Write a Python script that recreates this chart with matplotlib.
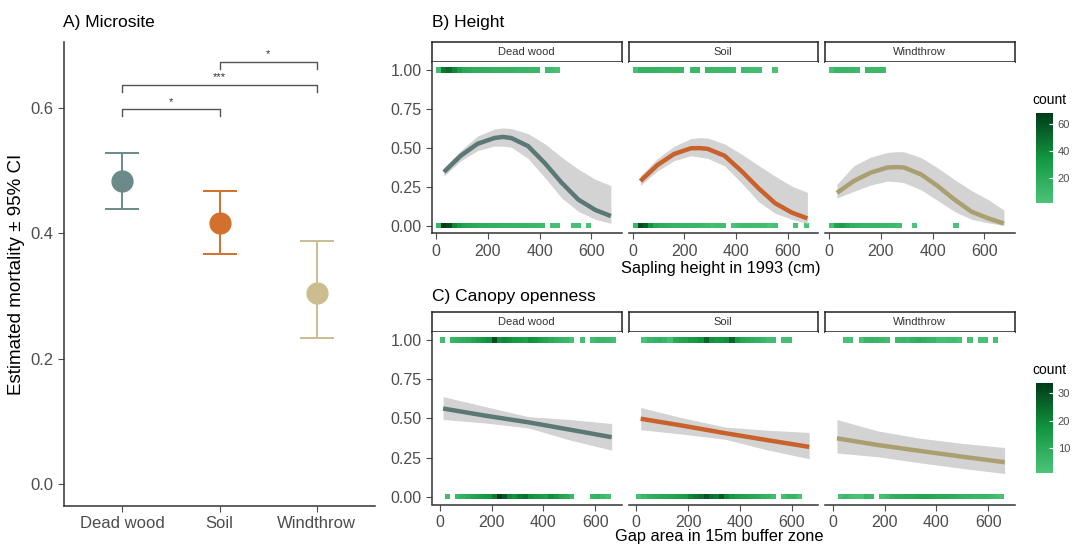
import numpy as np
import matplotlib.pyplot as plt
from matplotlib.colors import LinearSegmentedColormap, Normalize
from matplotlib.cm import ScalarMappable

plt.rcParams['font.family'] = ['Liberation Sans', 'DejaVu Sans']

# ---- A) microsite estimates
microsites = ['Dead wood', 'Soil', 'Windthrow']
mort_est = [0.483, 0.416, 0.304]
mort_lo = [0.438, 0.367, 0.233]
mort_hi = [0.528, 0.467, 0.388]
sig_pairs = [(0, 1), (0, 2), (1, 2)]
sig_labels = ['*', '***', '*']
sig_y = [0.598, 0.637, 0.673]

# ---- B) height: fitted curves
height_x = [30, 95, 160, 225, 258, 290, 355, 420, 485, 550, 615, 675]
height_fit = {
    'Dead wood': [0.344, 0.449, 0.526, 0.563, 0.570, 0.563, 0.511, 0.401, 0.275, 0.166, 0.100, 0.061],
    'Soil':      [0.286, 0.388, 0.460, 0.497, 0.498, 0.493, 0.449, 0.351, 0.242, 0.144, 0.083, 0.046],
    'Windthrow': [0.210, 0.286, 0.340, 0.373, 0.376, 0.373, 0.329, 0.253, 0.166, 0.089, 0.046, 0.013],
}
height_hi = {
    'Dead wood': [0.372, 0.482, 0.576, 0.620, 0.628, 0.624, 0.591, 0.526, 0.439, 0.362, 0.297, 0.257],
    'Soil':      [0.320, 0.430, 0.510, 0.559, 0.565, 0.563, 0.525, 0.460, 0.388, 0.318, 0.253, 0.213],
    'Windthrow': [0.265, 0.384, 0.440, 0.470, 0.475, 0.474, 0.437, 0.370, 0.295, 0.225, 0.166, 0.100],
}
height_lo = {
    'Dead wood': [0.318, 0.416, 0.482, 0.511, 0.510, 0.504, 0.432, 0.308, 0.177, 0.090, 0.040, 0.014],
    'Soil':      [0.258, 0.350, 0.417, 0.449, 0.440, 0.432, 0.384, 0.275, 0.155, 0.079, 0.040, 0.014],
    'Windthrow': [0.177, 0.220, 0.260, 0.286, 0.283, 0.275, 0.230, 0.160, 0.090, 0.040, 0.017, 0.002],
}

# ---- C) canopy openness: fitted lines
gap_x = {
    'Dead wood': [13, 174, 342, 503, 664],
    'Soil':      [17, 174, 342, 503, 668],
    'Windthrow': [16, 174, 338, 503, 664],
}
gap_fit = {
    'Dead wood': [0.563, 0.518, 0.475, 0.428, 0.380],
    'Soil':      [0.498, 0.455, 0.406, 0.362, 0.318],
    'Windthrow': [0.373, 0.330, 0.292, 0.255, 0.220],
}
gap_hi = {
    'Dead wood': [0.639, 0.576, 0.511, 0.493, 0.467],
    'Soil':      [0.570, 0.505, 0.445, 0.425, 0.410],
    'Windthrow': [0.493, 0.420, 0.373, 0.340, 0.314],
}
gap_lo = {
    'Dead wood': [0.493, 0.471, 0.439, 0.362, 0.297],
    'Soil':      [0.428, 0.400, 0.367, 0.300, 0.242],
    'Windthrow': [0.279, 0.255, 0.216, 0.180, 0.148],
}

# ---- observation counts, bins of 20 from 0 to 700 (alive = 0, dead = 1)
bin_edges = np.arange(0, 701, 20)
height_counts_dead = {
    'Dead wood': [6, 45, 50, 40, 28, 22, 20, 18, 17, 16, 16, 15, 15, 14, 14, 13, 12, 12, 11, 10, 0, 8, 7, 3, 0, 0, 0, 0, 0, 0, 0, 0, 0, 0, 0],
    'Soil':      [5, 14, 15, 14, 14, 13, 13, 12, 12, 11, 0, 10, 10, 0, 10, 10, 9, 9, 9, 8, 0, 8, 7, 7, 6, 0, 0, 3, 0, 0, 0, 0, 0, 0, 0],
    'Windthrow': [4, 12, 12, 11, 11, 9, 0, 10, 10, 10, 8, 0, 0, 0, 0, 0, 0, 0, 0, 0, 0, 0, 0, 0, 0, 0, 0, 0, 0, 0, 0, 0, 0, 0, 0],
}
height_counts_alive = {
    'Dead wood': [12, 68, 62, 40, 30, 25, 22, 20, 18, 17, 16, 16, 15, 14, 14, 13, 13, 12, 11, 10, 8, 0, 5, 5, 0, 0, 4, 5, 0, 3, 0, 0, 0, 0, 0],
    'Soil':      [10, 62, 55, 35, 22, 18, 16, 15, 14, 13, 12, 12, 11, 10, 8, 5, 8, 6, 0, 3, 7, 8, 8, 7, 7, 6, 2, 4, 0, 0, 0, 3, 0, 3, 0],
    'Windthrow': [5, 25, 28, 22, 16, 14, 13, 12, 12, 11, 10, 10, 9, 6, 0, 0, 2, 0, 0, 0, 0, 0, 0, 0, 2, 0, 0, 0, 0, 0, 0, 0, 0, 0, 0],
}
gap_counts_dead = {
    'Dead wood': [4, 0, 6, 8, 9, 10, 12, 14, 16, 18, 30, 18, 20, 18, 16, 15, 14, 18, 17, 14, 12, 10, 8, 7, 6, 3, 0, 3, 0, 4, 6, 6, 5, 3, 0],
    'Soil':      [0, 2, 6, 7, 8, 6, 3, 10, 12, 13, 15, 16, 18, 26, 18, 16, 17, 18, 26, 15, 12, 10, 9, 8, 6, 4, 4, 0, 3, 3, 0, 0, 0, 0, 0],
    'Windthrow': [0, 0, 2, 2, 0, 2, 6, 7, 6, 5, 4, 0, 5, 6, 5, 8, 9, 8, 7, 6, 3, 3, 4, 4, 2, 0, 2, 0, 2, 2, 0, 2, 0, 0, 0],
}
gap_counts_alive = {
    'Dead wood': [0, 4, 0, 6, 8, 10, 12, 14, 15, 17, 22, 33, 28, 20, 18, 22, 24, 18, 16, 15, 14, 18, 16, 12, 10, 6, 0, 0, 0, 6, 8, 5, 3, 0, 0],
    'Soil':      [3, 6, 8, 9, 10, 11, 12, 13, 14, 15, 20, 22, 24, 28, 24, 22, 28, 20, 16, 14, 13, 12, 11, 10, 8, 7, 4, 0, 3, 6, 6, 2, 0, 0, 0],
    'Windthrow': [0, 3, 5, 4, 2, 2, 6, 5, 0, 3, 5, 8, 9, 9, 10, 10, 11, 12, 12, 11, 10, 10, 9, 9, 8, 7, 7, 6, 6, 6, 5, 4, 2, 0, 0],
}

# ---- styling
W, H = 1074, 544
point_colors = ['#6b8a89', '#d2702d', '#cbbd8f']
line_colors = ['#5b7877', '#c8612a', '#aa9f70']
cmap = LinearSegmentedColormap.from_list('cnt', ['#4cc47a', '#12963f', '#003a18'])
tick_col = '#4d4d4d'


def fbox(x0, y0, x1, y1):
    # pixel box (top-left origin) -> figure fraction rect
    return [x0 / W, 1 - y1 / H, (x1 - x0) / W, (y1 - y0) / H]


fig = plt.figure(figsize=(W / 100, H / 100), dpi=100)

# ================= panel A
axA = fig.add_axes(fbox(64, 42, 375, 506))
for i, name in enumerate(microsites):
    axA.errorbar(i + 1, mort_est[i],
                 yerr=[[mort_est[i] - mort_lo[i]], [mort_hi[i] - mort_est[i]]],
                 fmt='o', color=point_colors[i], ms=15, capsize=12,
                 elinewidth=1.4, capthick=1.4, zorder=3)
for (a, b), lab, y in zip(sig_pairs, sig_labels, sig_y):
    axA.plot([a + 1, a + 1, b + 1, b + 1], [y - 0.011, y, y, y - 0.011],
             color='#555555', lw=1)
    axA.text((a + b) / 2 + 1, y + 0.004, lab, ha='center', va='bottom',
             fontsize=8, color='#333333')
axA.set_xlim(0.4, 3.6)
axA.set_ylim(-0.035, 0.705)
axA.set_xticks([1, 2, 3])
axA.set_xticklabels(microsites)
axA.set_yticks([0.0, 0.2, 0.4, 0.6])
axA.set_yticklabels(['0.0', '0.2', '0.4', '0.6'])
axA.tick_params(labelsize=12, colors=tick_col, labelcolor=tick_col, length=4)
axA.set_ylabel('Estimated mortality ± 95% CI', fontsize=13.5)
for s in ['top', 'right']:
    axA.spines[s].set_visible(False)
for s in ['left', 'bottom']:
    axA.spines[s].set_color('#333333')
    axA.spines[s].set_linewidth(1.1)
fig.text(63 / W, 1 - 22 / H, 'A) Microsite', fontsize=12.5, va='center')


def facet_row(top_strip, top, bottom, xlim, xs, fits, his, los, cnt1, cnt0, norm):
    lefts = [432, 628.5, 825]
    width = 189.5
    axes = []
    for j, name in enumerate(microsites):
        x0 = lefts[j]
        sax = fig.add_axes(fbox(x0, top_strip, x0 + width, top))
        sax.set_xticks([])
        sax.set_yticks([])
        for s in sax.spines.values():
            s.set_linewidth(1.1)
            s.set_color('#222222')
        sax.text(0.5, 0.5, name, ha='center', va='center', fontsize=8,
                 color='#333333', transform=sax.transAxes)

        ax = fig.add_axes(fbox(x0, top, x0 + width, bottom))
        xj = xs[name] if isinstance(xs, dict) else xs
        for y, cnt in [(1.0, cnt1[name]), (0.0, cnt0[name])]:
            c = np.ma.masked_equal(np.array([cnt], dtype=float), 0)
            ax.pcolormesh(bin_edges, [y - 0.017, y + 0.017], c, cmap=cmap,
                          norm=norm, shading='flat')
        ax.fill_between(xj, los[name], his[name], color='#d3d3d3', lw=0,
                        zorder=2)
        ax.plot(xj, fits[name], color=line_colors[j], lw=3.2,
                solid_capstyle='butt', solid_joinstyle='round', zorder=3)
        ax.set_xlim(*xlim)
        ax.set_ylim(-0.05, 1.05)
        ax.set_xticks([0, 200, 400, 600])
        ax.set_yticks([0, 0.25, 0.5, 0.75, 1.0])
        ax.tick_params(labelsize=11.5, colors=tick_col, labelcolor=tick_col,
                       length=4)
        for s in ['top', 'right']:
            ax.spines[s].set_visible(False)
        ax.spines['bottom'].set_color('#333333')
        ax.spines['bottom'].set_linewidth(1.1)
        if j == 0:
            ax.set_yticklabels(['0.00', '0.25', '0.50', '0.75', '1.00'])
            ax.spines['left'].set_color('#333333')
            ax.spines['left'].set_linewidth(1.1)
        else:
            ax.set_yticklabels([])
            ax.tick_params(axis='y', length=0)
            ax.spines['left'].set_visible(False)
        axes.append(ax)
    return axes


norm_h = Normalize(vmin=1, vmax=68)
norm_g = Normalize(vmin=1, vmax=33.4)

facet_row(41.7, 62.3, 233.3, (-16, 716), height_x, height_fit, height_hi,
          height_lo, height_counts_dead, height_counts_alive, norm_h)
facet_row(312.3, 332.3, 504.5, (-30, 702), gap_x, gap_fit, gap_hi,
          gap_lo, gap_counts_dead, gap_counts_alive, norm_g)

fig.text(432 / W, 1 - 22 / H, 'B) Height', fontsize=12.5, va='center')
fig.text(432 / W, 1 - 297 / H, 'C) Canopy openness', fontsize=12.5, va='center')
fig.text(721 / W, 1 - 268 / H, 'Sapling height in 1993 (cm)', fontsize=11.8,
         ha='center', va='center')
fig.text(719 / W, 1 - 536 / H, 'Gap area in 15m buffer zone', fontsize=11.8,
         ha='center', va='center')

# colour bars
for (y0, y1, norm, ticks, ty) in [(112.7, 203.3, norm_h, [20, 40, 60], 100),
                                  (383.3, 473.3, norm_g, [10, 20, 30], 370)]:
    cax = fig.add_axes(fbox(1036, y0, 1053, y1))
    cb = fig.colorbar(ScalarMappable(norm=norm, cmap=cmap), cax=cax,
                      ticks=ticks)
    cb.outline.set_visible(False)
    cax.tick_params(labelsize=8, colors='white', labelcolor=tick_col,
                    length=3, width=0.8, direction='in')
    fig.text(1032 / W, 1 - ty / H, 'count', fontsize=10, va='center')

fig.savefig('out.png', dpi=100)
